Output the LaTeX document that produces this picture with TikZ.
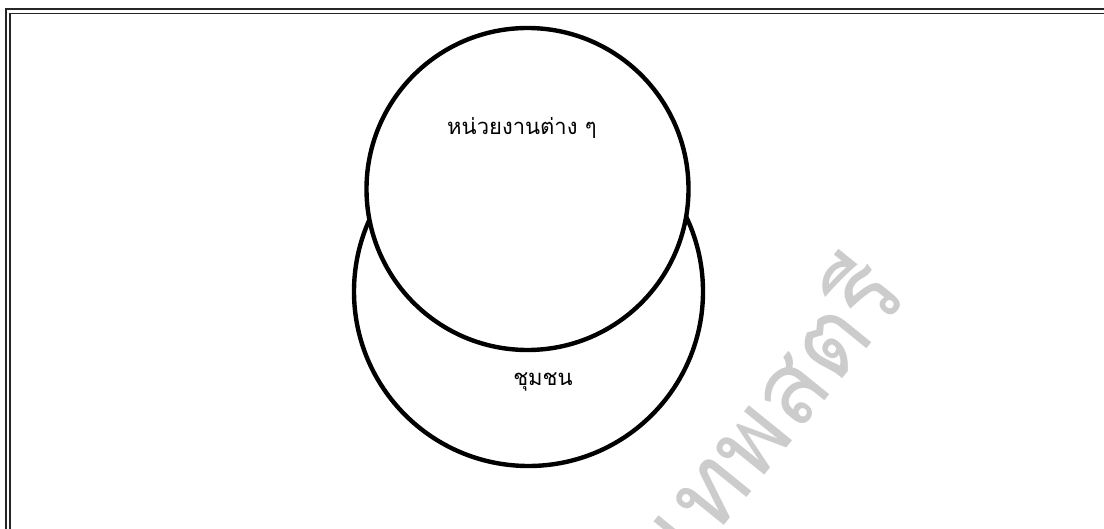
\documentclass[tikz,border=0pt]{standalone}
\usepackage{fontspec}
\newfontfamily\thaifont[Script=Thai]{Loma}
\usetikzlibrary{positioning}

\begin{document}
\begin{tikzpicture}[x=1pt,y=-1pt,
    ring/.style={circle,draw=black,line width=4.4pt,inner sep=0pt},
    ringtext/.style={font=\thaifont\fontsize{22}{26}\selectfont,inner sep=0pt},
    frameline/.style={draw=black!85,line width=1.8pt},
    stamp/.style={font=\thaifont\fontsize{100}{100}\selectfont,text=black!20,rotate=51,inner sep=0pt}
  ]
  \useasboundingbox (0,0) rectangle (1104,529);
  \clip (0,0) rectangle (1104,529);
  \fill[white] (0,0) rectangle (1104,529);
  % frame, cut at right and bottom
  \draw[frameline] (6,540) |- (1110,9);
  \draw[frameline] (10,540) |- (1110,13.5);
  % two rings
  \node[ring,minimum size=349] (community) at (528.5,291.5) {};
  \node[ring,fill=white,minimum size=322] (agencies) at (527.5,189) {};
  \node[ringtext] (agtext) at (522,128) {หน่วยงานต่าง ๆ};
  \node[ringtext] (comtext) at (543,382) {ชุมชน};
  % watermark
  \node[stamp] (mark) at (769,403) {เทพสตรี};
\end{tikzpicture}
\end{document}
